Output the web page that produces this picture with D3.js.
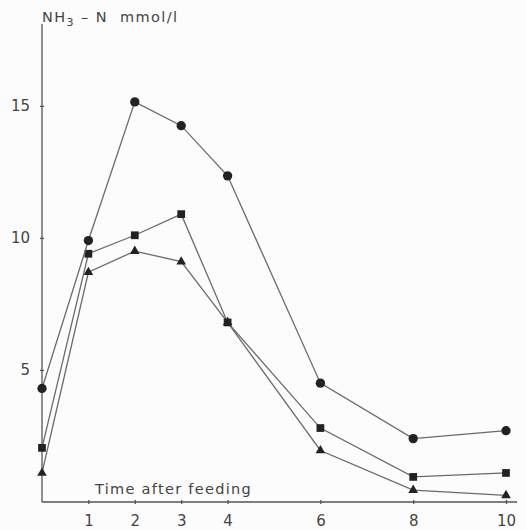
<!DOCTYPE html>
<html>
<head>
<meta charset="utf-8">
<script src="https://cdn.jsdelivr.net/npm/d3@7"></script>
<style>
html,body{margin:0;padding:0;background:#fcfcfc;}
svg{display:block;}
text{font-family:"DejaVu Sans",sans-serif;fill:#444;}
</style>
</head>
<body>
<svg id="chart" width="526" height="530"></svg>
<script>
const times = [0, 1, 2, 3, 4, 6, 8, 10];
const circleSeries = [4.3, 9.9, 15.15, 14.25, 12.35, 4.5, 2.4, 2.7];
const squareSeries = [2.05, 9.4, 10.1, 10.9, 6.8, 2.8, 0.95, 1.1];
const triangleSeries = [1.1, 8.7, 9.5, 9.1, 6.8, 1.95, 0.45, 0.25];
const xTicks = [1, 2, 3, 4, 6, 8, 10];
const yTicks = [5, 10, 15];
const yTitle = ["NH", "3", " – N  mmol/l"];
const xTitle = "Time after feeding";

const svg = d3.select("#chart");
const x = d3.scaleLinear().domain([0, 10]).range([42, 506]);
const y = d3.scaleLinear().domain([0, 18.1]).range([502, 24]);

const lineCol = "#6a6a6a", markCol = "#222";

// axes
const gx = svg.append("g").attr("transform", `translate(0,${y(0)})`)
  .call(d3.axisBottom(x).tickValues(xTicks).tickSize(3).tickPadding(7).tickSizeOuter(0));
gx.select(".domain").attr("d", `M${x(0)},0H517`);
const gy = svg.append("g").attr("transform", `translate(${x(0)},0)`)
  .call(d3.axisLeft(y).tickValues(yTicks).tickSize(3).tickPadding(9).tickSizeOuter(0));
gy.select(".domain").attr("d", `M0,${y(0)}V24`);
svg.selectAll(".domain").attr("stroke", "#555").attr("stroke-width", 1.3);
svg.selectAll(".tick line").attr("stroke", "#555").attr("stroke-width", 1.3);
gx.selectAll(".tick line").attr("y1", -2).attr("y2", 2);
gy.selectAll(".tick line").attr("x1", -2).attr("x2", 2);
svg.selectAll(".tick text").attr("font-family", "DejaVu Sans").attr("font-size", 15).attr("fill", "#555");
gx.selectAll(".tick text").attr("dy", "0.9em");

// titles
const yt = svg.append("text").attr("x", 42).attr("y", 22).attr("font-size", 14.5).attr("fill", "#555")
  .attr("letter-spacing", 1.4).attr("xml:space", "preserve");
yt.append("tspan").text(yTitle[0]);
yt.append("tspan").attr("font-size", 11).attr("dy", 4).text(yTitle[1]);
yt.append("tspan").attr("dy", -4).text(yTitle[2]);
svg.append("text").attr("x", 95).attr("y", 494).attr("font-size", 14.5).attr("fill", "#555")
  .attr("letter-spacing", 1.3).text(xTitle);

const line = d3.line().x((d, i) => x(times[i])).y(d => y(d));
const series = [
  {vals: triangleSeries, shape: d3.symbolTriangle, size: 40},
  {vals: squareSeries, shape: d3.symbolSquare, size: 60},
  {vals: circleSeries, shape: d3.symbolCircle, size: 68}
];
series.forEach(s => {
  svg.append("path").datum(s.vals).attr("d", line)
    .attr("fill", "none").attr("stroke", lineCol).attr("stroke-width", 1.3);
  svg.append("g").selectAll("path").data(s.vals).join("path")
    .attr("transform", (d, i) => `translate(${x(times[i])},${y(d)})`)
    .attr("d", d3.symbol().type(s.shape).size(s.size))
    .attr("fill", markCol);
});
</script>
</body>
</html>
